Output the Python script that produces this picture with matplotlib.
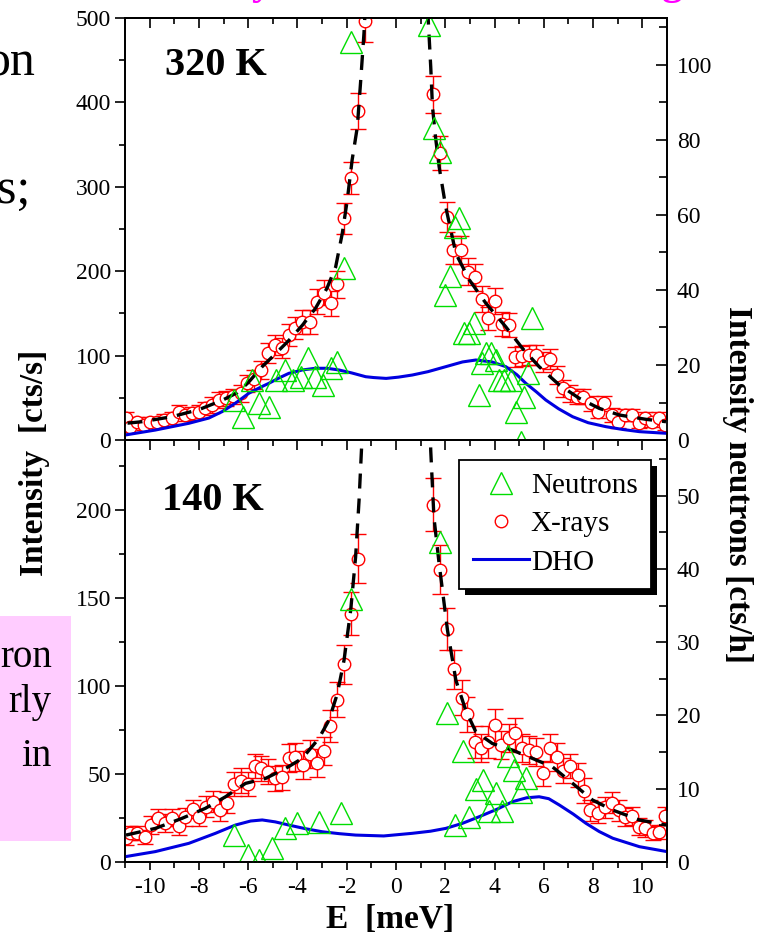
import matplotlib.pyplot as plt
from matplotlib.lines import Line2D
from matplotlib.patches import Rectangle
from matplotlib.ticker import MultipleLocator
from matplotlib.transforms import IdentityTransform

plt.rcParams['font.family'] = ['Liberation Serif', 'DejaVu Serif']
plt.rcParams['axes.unicode_minus'] = False

# ---- 320 K : X-rays (cts/s) ----
xr_hot_E = [-10.96, -10.79, -10.50, -10.24, -9.97, -9.70, -9.43, -9.09, -8.82, -8.55,
            -8.28, -8.00, -7.74, -7.47, -7.20, -6.92, -6.60, -6.31, -6.04, -5.75,
            -5.46, -5.19, -4.92, -4.62, -4.35, -4.08, -3.81, -3.51, -3.22, -2.93,
            -2.65, -2.38, -2.10, -1.82, -1.55, -1.26,
            1.52, 1.80, 2.09, 2.32, 2.63, 2.94, 3.20, 3.48, 3.74, 4.01,
            4.30, 4.59, 4.84, 5.13, 5.41, 5.68, 5.95, 6.25, 6.52, 6.79,
            7.06, 7.33, 7.60, 7.91, 8.18, 8.46, 8.75, 9.02, 9.30, 9.57,
            9.85, 10.12, 10.39, 10.69, 10.93]
xr_hot_I = [25.7, 15.8, 21.7, 17.8, 21.7, 21.7, 23.7, 25.7, 33.6, 29.6,
            31.6, 33.6, 37.5, 41.5, 47.4, 49.4, 52.0, 55.3, 67.2, 72.0,
            83.0, 102.7, 112.6, 108.7, 124.4, 132.4, 140.2, 140.2, 163.9, 174.6,
            162.0, 184.5, 262.7, 310.8, 390.0, 497.0,
            409.6, 340.0, 263.9, 225.0, 225.0, 199.5, 192.8, 167.0, 144.2, 164.7,
            137.5, 136.3, 98.7, 99.5, 100.7, 100.7, 92.8, 95.6, 77.0, 61.3,
            55.3, 51.3, 51.3, 43.5, 33.6, 43.5, 29.6, 21.7, 29.6, 29.6,
            20.5, 25.7, 21.7, 25.7, 17.8]
xr_hot_err = [7, 6, 6, 6, 6, 6, 7, 7, 8, 7,
              8, 8, 8, 9, 9, 9, 9, 10, 10, 11,
              11, 12, 12, 12, 13, 13, 14, 14, 15, 15,
              15, 16, 18, 19, 21, 25,
              22, 20, 18, 17, 17, 16, 16, 15, 14, 15,
              14, 14, 12, 12, 12, 12, 12, 12, 11, 10,
              10, 9, 9, 9, 8, 9, 8, 7, 7, 7,
              6, 7, 6, 7, 6]

# ---- 320 K : neutrons (cts/h) ----
nt_hot_E = [-6.59, -6.22, -5.84, -5.57, -5.16, -4.89, -4.51, -4.19, -3.87, -3.56,
            -3.27, -2.97, -2.65, -2.38, -2.11, -1.84,
            1.34, 1.54, 1.77, 1.98, 2.18, 2.40, 2.56, 2.76, 2.97, 3.17,
            3.35, 3.51, 3.65, 3.85, 4.05, 4.19, 4.39, 4.66, 4.89, 5.07,
            5.20, 5.34, 5.52]
nt_hot_N = [10.7, 6.2, 16.0, 9.8, 8.9, 16.0, 18.7, 16.0, 16.9, 21.8,
            16.9, 14.7, 19.1, 20.9, 45.8, 106.2,
            110.7, 83.1, 76.9, 38.7, 43.6, 56.9, 59.1, 28.5, 28.5, 31.1,
            12.0, 20.4, 23.1, 23.1, 21.3, 16.0, 16.0, 16.0, 7.6, -0.6,
            11.6, 17.8, 32.5]

# ---- 320 K : fit and DHO (cts/s) ----
fit_hot_L_E = [-10.9, -10.3, -9.1, -8.0, -7.06, -6.45, -6.0, -5.43, -4.9, -4.35,
               -3.8, -3.27, -2.8, -2.45, -2.18, -1.98, -1.78, -1.57, -1.44, -1.30, -1.25]
fit_hot_L_I = [20.0, 21.7, 27.6, 36.0, 47.0, 56.0, 68.0, 87.0, 102.0, 118.0,
               136.0, 156.0, 180.0, 205.0, 245.0, 284.0, 332.0, 371.0, 423.0, 482.0, 510.0]
fit_hot_R_E = [1.28, 1.31, 1.41, 1.48, 1.60, 1.75, 2.02, 2.43, 2.97, 3.65,
               4.46, 5.13, 5.81, 6.63, 7.44, 8.25, 9.07, 10.15, 10.96]
fit_hot_R_I = [510.0, 497.0, 442.0, 395.0, 360.0, 324.0, 276.0, 221.0, 190.0, 162.0,
               134.0, 108.7, 86.9, 65.2, 49.4, 37.5, 29.6, 24.5, 21.7]
dho_hot_E = [-11.0, -9.77, -8.41, -7.6, -7.06, -6.5, -5.98, -5.5, -5.16, -4.75,
             -4.35, -3.8, -3.27, -2.8, -2.32, -1.8, -1.23, -0.9, -0.4, 0.1,
             0.66, 1.3, 2.02, 2.7, 3.24, 3.9, 4.46, 4.9, 5.27, 5.7,
             6.08, 6.6, 7.17, 7.8, 8.52, 9.2, 9.88, 11.0]
dho_hot_I = [5.9, 11.8, 19.8, 26.0, 33.6, 44.0, 55.3, 62.5, 67.2, 73.5,
             79.0, 83.0, 85.0, 85.0, 83.0, 79.5, 75.0, 74.0, 73.0, 74.5,
             77.0, 81.0, 86.9, 92.5, 94.8, 92.5, 86.9, 77.5, 67.2, 57.0,
             47.4, 37.0, 27.6, 20.5, 15.8, 12.5, 9.9, 7.9]

# ---- 140 K : X-rays (cts/s) ----
xr_cold_E = [-10.96, -10.79, -10.50, -10.20, -9.93, -9.66, -9.39, -9.09, -8.82, -8.55,
             -8.25, -7.98, -7.71, -7.44, -7.15, -6.86, -6.59, -6.31, -6.02, -5.74,
             -5.46, -5.19, -4.92, -4.62, -4.35, -4.08, -3.78, -3.51, -3.22, -2.94,
             -2.66, -2.38, -2.11, -1.82, -1.55,
             1.50, 1.78, 2.09, 2.36, 2.67, 2.90, 3.20, 3.47, 3.74, 4.01,
             4.28, 4.57, 4.84, 5.11, 5.38, 5.68, 5.95, 6.25, 6.52, 6.79,
             7.06, 7.37, 7.64, 7.87, 8.18, 8.48, 8.75, 9.04, 9.31, 9.58,
             9.85, 10.12, 10.42, 10.69, 10.93]
xr_cold_I = [13.5, 16.3, 16.3, 14.0, 21.0, 25.2, 22.3, 25.2, 20.4, 25.7,
             30.1, 25.7, 31.4, 34.3, 29.5, 33.7, 44.3, 46.2, 44.3, 54.5,
             53.2, 51.3, 47.5, 48.1, 58.9, 59.5, 55.1, 61.3, 56.1, 63.2,
             77.4, 92.4, 112.5, 141.3, 172.5,
             203.3, 166.3, 132.7, 109.6, 93.5, 84.1, 68.3, 64.6, 68.3, 77.8,
             66.5, 70.3, 73.1, 64.6, 63.6, 62.7, 50.4, 64.6, 59.8, 51.9,
             54.5, 49.4, 40.5, 29.5, 28.0, 31.1, 33.7, 29.5, 25.7, 26.1,
             20.1, 19.1, 16.3, 17.2, 26.1]
xr_cold_err = [4, 4, 4, 4, 5, 5, 5, 5, 5, 5,
               5, 5, 6, 6, 6, 6, 7, 7, 7, 7,
               7, 7, 7, 7, 8, 8, 8, 8, 8, 8,
               9, 10, 11, 12, 14,
               15, 14, 12, 11, 10, 10, 9, 8, 9, 9,
               8, 8, 9, 8, 8, 8, 7, 8, 8, 7,
               7, 7, 7, 6, 6, 6, 6, 6, 5, 5,
               5, 5, 4, 4, 5]

# ---- 140 K : neutrons (cts/h) ----
nt_cold_E = [-6.56, -6.00, -5.57, -5.03, -4.51, -4.01, -3.13, -2.25, -1.84,
             1.78, 2.09, 2.40, 2.70, 2.97, 3.24, 3.54, 3.78, 4.05, 4.32,
             4.55, 4.80, 5.07, 5.27]
nt_cold_N = [3.7, 1.0, 0.3, 1.9, 4.6, 5.3, 5.5, 6.7, 35.9,
             43.7, 20.4, 5.1, 15.1, 6.2, 9.9, 11.2, 6.9, 9.4, 6.9,
             14.4, 12.6, 9.6, 11.5]

# ---- 140 K : fit and DHO (cts/s) ----
fit_cold_L_E = [-10.96, -9.77, -8.69, -7.74, -6.92, -6.11, -5.3, -4.48, -3.81, -3.13,
                -2.72, -2.38, -2.11, -1.84, -1.64, -1.50, -1.39, -1.36]
fit_cold_L_I = [15.3, 19.1, 24.8, 30.5, 37.1, 44.7, 47.5, 53.2, 58.9, 70.3,
                80.7, 95.8, 114.7, 143.1, 173.4, 205.6, 237.8, 250.0]
fit_cold_R_E = [1.38, 1.41, 1.54, 1.75, 2.09, 2.43, 2.83, 3.24, 3.91, 4.73,
                5.54, 6.35, 7.17, 7.98, 8.8, 9.88, 10.96]
fit_cold_R_I = [250.0, 234.0, 196.0, 169.7, 131.8, 103.4, 86.3, 74.0, 67.4, 63.6,
                58.9, 54.1, 44.7, 35.2, 29.5, 23.9, 21.0]
dho_cold_E = [-11.0, -9.77, -8.41, -7.33, -6.52, -5.9, -5.43, -4.9, -4.35, -3.7,
              -3.0, -2.3, -1.64, -0.5, 0.66, 1.4, 2.02, 2.7, 3.37, 4.1,
              4.73, 5.3, 5.81, 6.2, 6.63, 7.2, 7.71, 8.25, 8.8, 9.88, 11.0]
dho_cold_I = [3.0, 5.9, 10.6, 16.3, 21.0, 23.3, 23.9, 22.8, 21.0, 19.0,
              17.2, 16.1, 15.3, 14.8, 16.3, 17.5, 19.1, 22.0, 25.7, 30.0,
              34.3, 36.5, 37.1, 36.0, 32.4, 27.2, 22.0, 17.3, 13.5, 8.7, 5.9]

green = '#00DD00'
blue = '#0000E0'
tick_fs = 17

fig = plt.figure(figsize=(7.67, 9.35), dpi=100)

# slide background bits
fig.patches.append(Rectangle((0, 0.1005), 0.0926, 0.2406, transform=fig.transFigure,
                             facecolor='#FFCCFF', edgecolor='none', zorder=-1))
fig.text(35/767, 1 - 75/935, 'on', ha='right', va='baseline', fontsize=36)
fig.text(30/767, 1 - 203/935, 's;', ha='right', va='baseline', fontsize=36)
fig.text(52/767, 1 - 667/935, 'ron', ha='right', va='baseline', fontsize=28)
fig.text(51/767, 1 - 712/935, 'rly', ha='right', va='baseline', fontsize=28)
fig.text(52/767, 1 - 766/935, 'in', ha='right', va='baseline', fontsize=28)
fig.text(262/767, 1 + 6/935, 'y', ha='center', va='baseline', fontsize=30,
         fontweight='bold', color='magenta')
fig.text(672/767, 1 + 6/935, 'g', ha='center', va='baseline', fontsize=30,
         fontweight='bold', color='magenta')

ax_top = fig.add_axes([0.163, 0.5294, 0.7066, 0.4513])
ax_bot = fig.add_axes([0.163, 0.0781, 0.7066, 0.4513])
ax_top_n = ax_top.twinx()
ax_bot_n = ax_bot.twinx()


def draw_panel(ax, axn, E, I, err, nE, nN, fLE, fLI, fRE, fRI, dE, dI):
    ax.errorbar(E, I, yerr=err, fmt='none', ecolor='red', elinewidth=1,
                capsize=5.5, capthick=1, zorder=2)
    ax.plot(E, I, 'o', ms=9, mfc='white', mec='red', mew=1, zorder=3)
    ax.plot(fLE, fLI, color='black', lw=2.4, ls=(0, (4.5, 3)), zorder=4)
    ax.plot(fRE, fRI, color='black', lw=2.4, ls=(0, (4.5, 3)), zorder=4)
    ax.plot(dE, dI, color=blue, lw=2.2, zorder=5)
    axn.plot(nE, nN, '^', ms=15.5, mfc='none', mec=green, mew=1)


draw_panel(ax_top, ax_top_n, xr_hot_E, xr_hot_I, xr_hot_err, nt_hot_E, nt_hot_N,
           fit_hot_L_E, fit_hot_L_I, fit_hot_R_E, fit_hot_R_I, dho_hot_E, dho_hot_I)
draw_panel(ax_bot, ax_bot_n, xr_cold_E, xr_cold_I, xr_cold_err, nt_cold_E, nt_cold_N,
           fit_cold_L_E, fit_cold_L_I, fit_cold_R_E, fit_cold_R_I, dho_cold_E, dho_cold_I)

ax_top.set_ylim(0, 500)
ax_top_n.set_ylim(0, 112.5)
ax_bot.set_ylim(0, 240)
ax_bot_n.set_ylim(0, 57.6)
ax_top.yaxis.set_major_locator(MultipleLocator(100))
ax_top.yaxis.set_minor_locator(MultipleLocator(50))
ax_top_n.yaxis.set_major_locator(MultipleLocator(20))
ax_top_n.yaxis.set_minor_locator(MultipleLocator(10))
ax_bot.yaxis.set_major_locator(MultipleLocator(50))
ax_bot.yaxis.set_minor_locator(MultipleLocator(25))
ax_bot_n.yaxis.set_major_locator(MultipleLocator(10))
ax_bot_n.yaxis.set_minor_locator(MultipleLocator(5))

for ax in (ax_top, ax_bot):
    ax.set_xlim(-11, 11)
    ax.xaxis.set_major_locator(MultipleLocator(2))
    ax.xaxis.set_minor_locator(MultipleLocator(1))
    ax.tick_params(axis='y', which='both', direction='out', width=1.2, labelsize=tick_fs, pad=3)
    ax.tick_params(axis='y', which='major', length=7)
    ax.tick_params(axis='y', which='minor', length=4)
    sec = ax.secondary_xaxis('top')
    sec.xaxis.set_major_locator(MultipleLocator(2))
    sec.xaxis.set_minor_locator(MultipleLocator(1))
    sec.tick_params(which='both', direction='in', labeltop=False, width=1.2)
    sec.tick_params(which='major', length=7)
    sec.tick_params(which='minor', length=4)
    sec.spines['top'].set_linewidth(1.3)
    for s in ax.spines.values():
        s.set_linewidth(1.3)

for axn in (ax_top_n, ax_bot_n):
    axn.tick_params(axis='y', which='both', direction='in', width=1.2, labelsize=tick_fs, pad=7)
    axn.tick_params(axis='y', which='major', length=8)
    axn.tick_params(axis='y', which='minor', length=6)
    for s in axn.spines.values():
        s.set_linewidth(1.3)

ax_top.tick_params(axis='x', which='both', bottom=False, labelbottom=False)
ax_bot.tick_params(axis='x', which='both', direction='out', width=1.2, labelsize=tick_fs, pad=5)
ax_bot.tick_params(axis='x', which='major', length=6)
ax_bot.tick_params(axis='x', which='minor', length=4)

ax_top.text(0.074, 0.865, '320 K', transform=ax_top.transAxes, fontsize=29, fontweight='bold')
ax_bot.text(0.068, 0.834, '140 K', transform=ax_bot.transAxes, fontsize=29, fontweight='bold')

fig.text(35/767, 1 - 463/935, 'Intensity  [cts/s]', rotation=90, ha='center', va='center',
         fontsize=24, fontweight='bold')
fig.text(738/767, 1 - 484/935, 'Intensity neutrons [cts/h]', rotation=270, ha='center',
         va='center', fontsize=24, fontweight='bold')
fig.text(390/767, 1 - 920/935, 'E  [meV]', ha='center', va='center', fontsize=24,
         fontweight='bold')

handles = [Line2D([], [], marker='^', ls='none', ms=15.5, mfc='none', mec=green, mew=1),
           Line2D([], [], marker='o', ls='none', ms=9, mfc='none', mec='red', mew=1),
           Line2D([], [], color=blue, lw=2.2)]
leg = ax_bot_n.legend(handles, ['Neutrons', 'X-rays', 'DHO'], loc='upper right',
                      bbox_to_anchor=(0.970, 0.953), fancybox=False, edgecolor='black',
                      framealpha=1, fontsize=21, borderpad=0.45, handlelength=1.95,
                      handletextpad=0.05, labelspacing=0.4, borderaxespad=0)
leg.get_frame().set_linewidth(1.3)
leg.set_zorder(10)

fig.canvas.draw()
bb = leg.get_window_extent()
shadow = Rectangle((bb.x0 + 6, bb.y0 - 6), bb.width, bb.height, facecolor='black',
                   edgecolor='none', zorder=9)
shadow.set_transform(IdentityTransform())
shadow.set_clip_on(False)
ax_bot_n.add_patch(shadow)

fig.savefig('out.png', dpi=100)
